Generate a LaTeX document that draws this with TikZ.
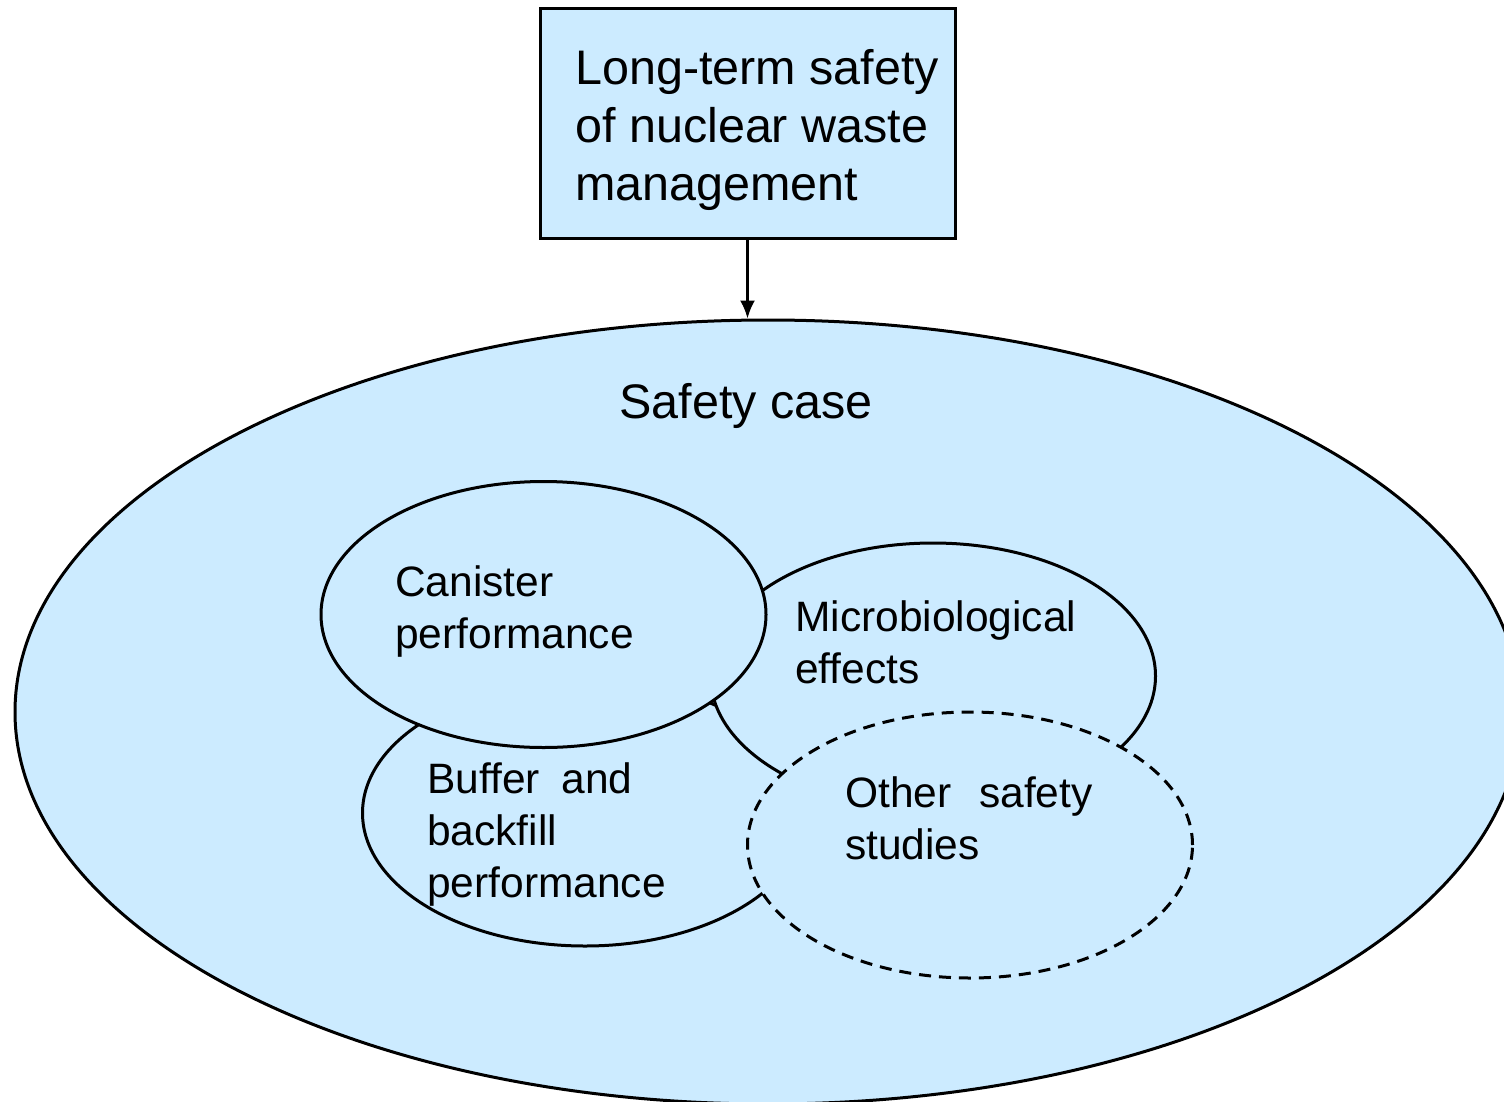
\documentclass[tikz,border=0pt]{standalone}
\usepackage{fontspec}
\setmainfont{Liberation Sans}
\usetikzlibrary{shapes.geometric,arrows.meta}
\definecolor{paleblue}{RGB}{204,235,255}
\newcommand\headfont{\fontsize{48.5}{58}\selectfont}
\newcommand\topicfont{\fontsize{42.5}{52}\selectfont}
\tikzset{
  panel/.style={draw, fill=paleblue, line width=3pt, minimum width=415pt, minimum height=230pt, inner sep=0pt},
  field/.style={draw, fill=paleblue, ellipse, line width=3pt, minimum width=1506pt, minimum height=784pt, inner sep=0pt},
  topic/.style={draw, fill=paleblue, ellipse, line width=3pt, minimum width=445pt, minimum height=266pt, inner sep=0pt},
  topictext/.style={align=left, inner sep=0pt, font=\topicfont, anchor=base west},
}
\begin{document}
\begin{tikzpicture}[x=1pt, y=-1pt, >={Latex[length=18pt,width=15pt]}]
\useasboundingbox (0,0) rectangle (1504,1101);
\node[field] (case) at (768,712) {};
\node[panel] (goal) at (747.5,123) {};
\node[align=left, inner sep=0pt, font=\headfont, anchor=base west] (goaltext) at (575,200) {Long-term safety\\of nuclear waste\\management};
\draw[->, line width=2.5pt] (goal) -- (goal |- case.north);
\node[anchor=base, inner sep=0pt, font=\headfont] (casetext) at (746,418) {Safety case};
% overlapping topics
\node[topic] (buffer) at (585,813) {};
\node[topic] (microbes) at (933,676) {};
\node[topic] (canister) at (543.5,614.5) {};
\node[topic, dashed, dash pattern=on 12pt off 8pt] (others) at (970,845) {};
\node[topictext] (canistertext) at (395,648) {Canister\\performance};
\node[topictext] (microbestext) at (795,683) {Microbiological\\effects};
\node[topictext] (buffertext) at (427,897) {Buffer\hspace{10pt} and\\backfill\\performance};
\node[topictext] (otherstext) at (845,859) {Other\hspace{16pt} safety\\studies};
\end{tikzpicture}
\end{document}
